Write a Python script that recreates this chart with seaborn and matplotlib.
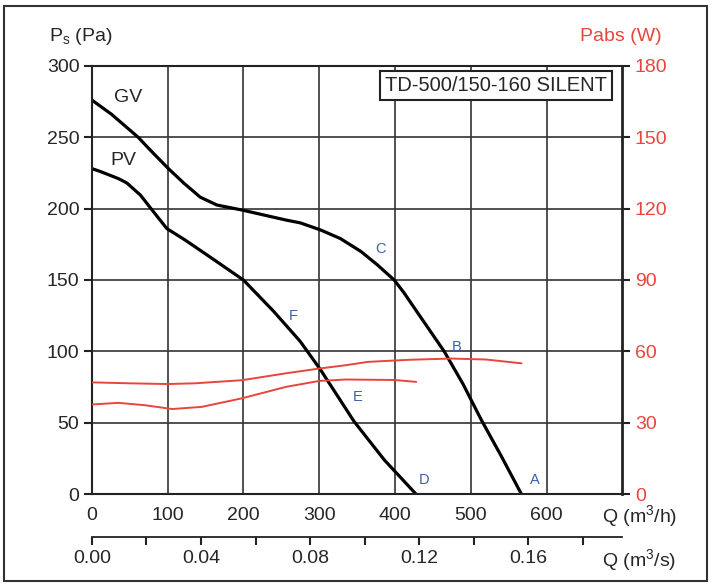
import numpy as np
import pandas as pd
import matplotlib
matplotlib.use("Agg")
import matplotlib.pyplot as plt
import seaborn as sns
from matplotlib.patches import Rectangle

# fan curves, static pressure (Pa) vs airflow (m3/h)
gv_q = [0, 26, 61, 77, 101, 121, 143, 165, 198, 256, 275, 302, 328, 355, 377, 399,
        412, 430, 465, 490, 514, 540, 567]
gv_ps = [276, 266, 250, 241, 228, 218, 208, 202.5, 199, 192, 190, 185, 179, 170, 160.5,
         150, 141, 127, 100, 77, 52, 27, 0]
pv_q = [0, 11, 35, 46, 64, 81, 99, 123, 159, 200, 240, 275, 302, 346, 386, 428]
pv_ps = [228, 226, 221, 218, 209.5, 198, 186, 178, 165, 150, 128, 107, 87, 51, 24, 0]

# absorbed power (W)
gv_pow_q = [0, 50, 99, 136, 198, 256, 300, 335, 364, 420, 474, 520, 567]
gv_pow_w = [47.0, 46.6, 46.3, 46.6, 47.9, 50.8, 52.8, 54.2, 55.6, 56.5, 57.0, 56.6, 55.0]
pv_pow_q = [0, 35, 70, 106, 145, 198, 256, 300, 335, 399, 428]
pv_pow_w = [37.7, 38.4, 37.4, 35.8, 36.7, 40.3, 45.1, 47.6, 48.2, 48.0, 47.2]

point_labels = ["A", "B", "C", "D", "E", "F"]
point_q = [585, 481, 381, 438, 351, 266]
point_ps = [10, 103, 172, 10, 68, 125]

model_name = "TD-500/150-160 SILENT"

sns.set_style("white")
plt.rcParams["font.family"] = ["Liberation Sans", "DejaVu Sans"]
plt.rcParams["font.size"] = 14

red = "#e8453c"
blue = "#3a5fa8"
fs = 14

fig = plt.figure(figsize=(7.12, 5.87), dpi=100)
ax = fig.add_axes([0.129, 0.158, 0.745, 0.73])

gv = pd.DataFrame({"q": gv_q, "ps": gv_ps})
pv = pd.DataFrame({"q": pv_q, "ps": pv_ps})
sns.lineplot(data=gv, x="q", y="ps", ax=ax, color="black", linewidth=2.3)
sns.lineplot(data=pv, x="q", y="ps", ax=ax, color="black", linewidth=2.3)

ax.set_xlim(0, 700)
ax.set_ylim(0, 300)
ax.set_xticks([0, 100, 200, 300, 400, 500, 600])
ax.set_yticks([0, 50, 100, 150, 200, 250, 300])
ax.grid(True, color="#333333", linewidth=1.2)
ax.set_xlabel("")
ax.set_ylabel("")
for s in ax.spines.values():
    s.set_color("#222222")
    s.set_linewidth(1.5)
ax.tick_params(axis="both", direction="out", length=6, width=1.5, color="#222222",
               labelsize=fs, pad=3)

# power on right axis
ax2 = ax.twinx()
gvp = pd.DataFrame({"q": gv_pow_q, "w": gv_pow_w})
pvp = pd.DataFrame({"q": pv_pow_q, "w": pv_pow_w})
sns.lineplot(data=gvp, x="q", y="w", ax=ax2, color=red, linewidth=1.4)
sns.lineplot(data=pvp, x="q", y="w", ax=ax2, color=red, linewidth=1.4)
ax2.set_ylim(0, 180)
ax2.set_yticks([0, 30, 60, 90, 120, 150, 180])
ax2.set_ylabel("")
ax2.tick_params(axis="y", direction="out", length=6, width=1.5, color="#222222",
                labelcolor=red, labelsize=fs, pad=3)
for s in ax2.spines.values():
    s.set_visible(False)
ax.spines["right"].set_linewidth(2)

# curve names and points
ax.text(48, 278, "GV", fontsize=fs, ha="center", va="center")
ax.text(42, 234, "PV", fontsize=fs, ha="center", va="center")
for lab, q, p in zip(point_labels, point_q, point_ps):
    ax.text(q, p, lab, color=blue, fontsize=10.5, ha="center", va="center")

ax.text(0.972, 0.954, model_name, transform=ax.transAxes, ha="right", va="center",
        fontsize=14.5,
        bbox=dict(boxstyle="square,pad=0.25", facecolor="white", edgecolor="#222222",
                  linewidth=1.5))

# second airflow scale in m3/s
sec = ax.secondary_xaxis(-0.1, functions=(lambda q: q / 3600.0, lambda s: s * 3600.0))
sec.set_xticks([0.0, 0.04, 0.08, 0.12, 0.16])
sec.set_xticks([0.02, 0.06, 0.10, 0.14, 0.18], minor=True)
sec.set_xticklabels(["0.00", "0.04", "0.08", "0.12", "0.16"])
sec.tick_params(which="both", direction="out", length=6, width=1.5, color="#222222",
                labelsize=fs, pad=3)
sec.spines["bottom"].set_color("#222222")
sec.spines["bottom"].set_linewidth(1.3)

# axis titles
fig.text(0.069, 0.937, r"P$_\mathregular{s}$ (Pa)", fontsize=fs, va="center")
fig.text(0.815, 0.937, "Pabs (W)", fontsize=fs, color=red, va="center")
fig.text(0.846, 0.119, r"Q (m$^\mathregular{3}$/h)", fontsize=fs, va="center")
fig.text(0.846, 0.044, r"Q (m$^\mathregular{3}$/s)", fontsize=fs, va="center")

# outer frame
fig.patches.append(Rectangle((0.005, 0.01), 0.988, 0.98, transform=fig.transFigure,
                             fill=False, edgecolor="#333333", linewidth=1.5))

fig.savefig("out.png", dpi=100)
